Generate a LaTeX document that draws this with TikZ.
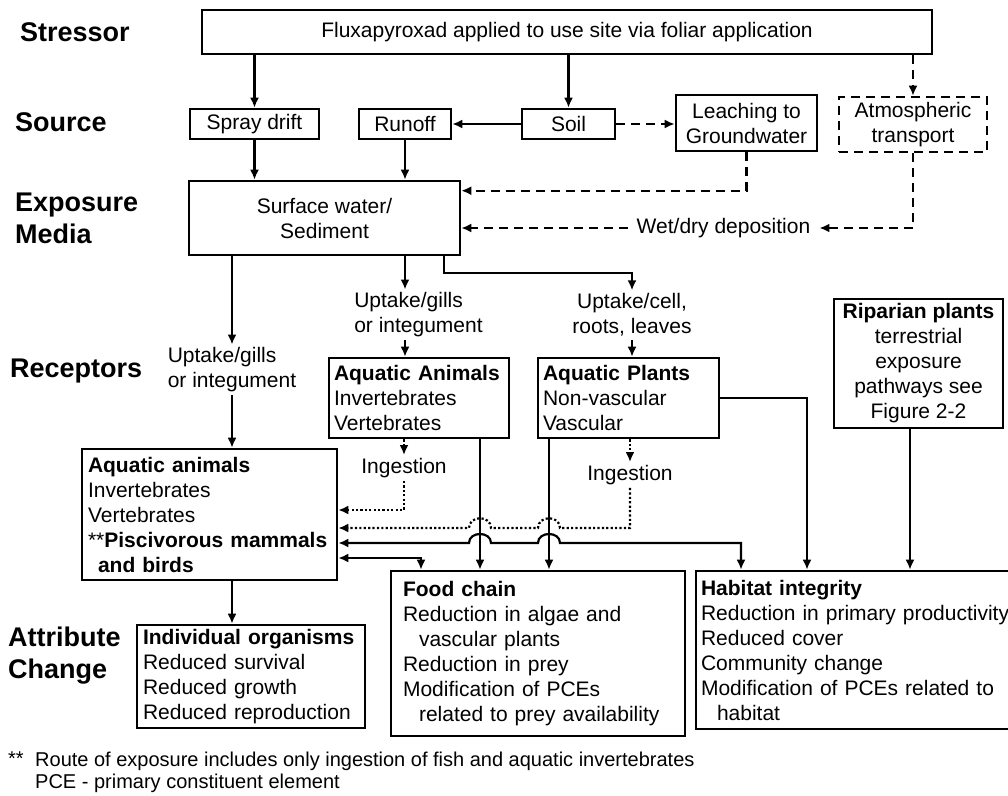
\documentclass[tikz,border=0pt]{standalone}
\usepackage{fontspec}
\setmainfont{Liberation Sans}
\usetikzlibrary{arrows.meta, positioning}

\begin{document}
\begin{tikzpicture}[x=1pt, y=-1pt,
  every node/.style={font=\fontsize{21}{25}\selectfont},
  stagelabel/.style={font=\fontsize{27}{32}\selectfont\bfseries, align=left,
    anchor=west, inner sep=0pt},
  plainbox/.style={draw, line width=2.6pt, rectangle, align=center, inner sep=4pt},
  listbox/.style={draw, line width=2.6pt, rectangle, align=left, inner ysep=4pt},
  routelabel/.style={align=left, inner sep=3pt},
  flow/.style={line width=2.2pt, -{Latex[length=10pt, width=9pt]}},
  twoway/.style={flow, {Latex[length=10pt, width=9pt]}-{Latex[length=10pt, width=9pt]}},
  dashflow/.style={flow, dash pattern=on 9pt off 6pt},
  dotflow/.style={flow, dash pattern=on 2.2pt off 2.2pt},
  footnote/.style={font=\fontsize{20}{22}\selectfont, anchor=west, inner sep=0pt, align=left}
]
\useasboundingbox (0,0) rectangle (1008,795);
\clip (0,0) rectangle (1008,795);

\node[stagelabel] (lstressor) at (20,32) {Stressor};
\node[stagelabel] (lsource) at (15,122) {Source};
\node[stagelabel] (lmedia) at (15,218) {Exposure\\Media};
\node[stagelabel] (lreceptor) at (10,371) {Receptors};
\node[stagelabel] (lattrib) at (8,656) {Attribute\\Change};

\node[plainbox, minimum width=730pt, minimum height=44pt] (stressor) at (567,32)
  {Fluxapyroxad applied to use site via foliar application};

\node[plainbox, minimum width=129pt, minimum height=30pt] (spray) at (254.5,124) {Spray drift};
\node[plainbox, minimum width=92pt, minimum height=30pt] (runoff) at (405,124) {Runoff};
\node[plainbox, minimum width=93pt, minimum height=30pt] (soil) at (568.5,124) {Soil};
\node[plainbox, minimum width=141pt, minimum height=56pt] (leach) at (746.5,123)
  {Leaching to\\Groundwater};
\node[plainbox, dash pattern=on 9pt off 6pt, minimum width=148pt, minimum height=55pt]
  (atmos) at (913,124.5) {Atmospheric\\transport};

\node[plainbox, minimum width=271pt, minimum height=74pt] (surface) at (324.5,218)
  {Surface water/\\Sediment};
\node[inner xsep=9pt] (depo) at (723.5,228) {Wet/dry deposition};

\node[routelabel] (up1) at (232,370) {Uptake/gills\\or integument};
\node[routelabel] (up2) at (418.5,315) {Uptake/gills\\or integument};
\node[routelabel, align=center] (up3) at (632,315) {Uptake/cell,\\roots, leaves};

\node[listbox, text width=170pt, inner xsep=5pt, minimum height=80pt] (aqanim) at (419,398)
  {\textbf{Aquatic Animals}\\Invertebrates\\Vertebrates};
\node[listbox, text width=171pt, inner xsep=5pt, minimum height=80pt] (aqplant) at (628.5,398)
  {\textbf{Aquatic Plants}\\Non-vascular\\Vascular};
\node[plainbox, minimum width=169pt, minimum height=129pt] (riparian) at (918.5,363.5)
  {\textbf{Riparian plants}\\terrestrial\\exposure\\pathways see\\Figure 2-2};

\node[listbox, text width=243pt, inner xsep=6pt, minimum height=131pt] (leftanim) at (209.5,514.5)
  {\textbf{Aquatic animals}\\Invertebrates\\Vertebrates\\{}**\textbf{Piscivorous mammals}\\
   \hspace*{10pt}\textbf{and birds}};
\node[inner sep=3pt] (ing1) at (404,468) {Ingestion};
\node[inner sep=3pt] (ing2) at (630,475) {Ingestion};

\node[listbox, text width=216pt, inner xsep=6pt, minimum height=103pt] (indiv) at (251,676.5)
  {\textbf{Individual organisms}\\Reduced survival\\Reduced growth\\Reduced reproduction};
\node[listbox, text width=270pt, inner xsep=12pt, minimum height=165pt] (food) at (538,653.5)
  {\textbf{Food chain}\\Reduction in algae and\\\hspace*{16pt}vascular plants\\Reduction in prey\\
   Modification of PCEs\\\hspace*{16pt}related to prey availability};
\node[listbox, text width=330pt, inner xsep=5pt, minimum height=158pt] (habitat) at (866,650)
  {\textbf{Habitat integrity}\\Reduction in primary productivity\\Reduced cover\\Community change\\
   Modification of PCEs related to\\\hspace*{16pt}habitat};

\node[footnote] (fnmark) at (8,759) {**};
\node[footnote] (fnote) at (35,772)
  {Route of exposure includes only ingestion of fish and aquatic invertebrates\\
   PCE - primary constituent element};

\draw[flow] (stressor.south -| spray.north) -- (spray.north);
\draw[flow] (stressor.south -| soil.north) -- (soil.north);
\draw[dashflow] (stressor.south -| atmos.north) -- (atmos.north);
\draw[flow] (soil.west) -- (runoff.east);
\draw[dashflow] (soil.east) -- (soil.east -| leach.west);

\draw[flow] (spray.south) -- (spray.south |- surface.north);
\draw[flow] (runoff.south) -- (runoff.south |- surface.north);
\draw[dashflow] (leach.south) |- ([yshift=-11pt]surface.north east);
\draw[dashflow] (atmos.south) |- (depo.east);
\draw[dashflow] (depo.west) -- (depo.west -| surface.east);

\draw[flow] (surface.south -| up1.north) -- (up1.north);
\draw[flow] (up1.south) -- (up1.south |- leftanim.north);
\draw[flow] (surface.south -| runoff.south) -- (runoff.south |- up2.north);
\draw[flow] (runoff.south |- up2.south) -- (runoff.south |- aqanim.north);
\draw[flow] ([xshift=-17pt]surface.south east) -- ++(0,17) -| (up3.north);
\draw[flow] (up3.south) -- (up3.south |- aqplant.north);

\draw[dotflow] (aqanim.south -| ing1.north) -- (ing1.north);
\draw[dotflow] (ing1.south) |- ([yshift=4.5pt]leftanim.east);
\draw[dotflow] (aqplant.south -| ing2.north) -- (ing2.north);
\draw[dotflow] (ing2.south) |- (560,528) .. controls (560,515) and (538,515) .. (538,528)
  -- (491,528) .. controls (491,515) and (469,515) .. (469,528)
  -- ([yshift=-13.5pt]leftanim.east);

\coordinate (animdrop) at ([xshift=61pt]aqanim.south);
\coordinate (plantdrop) at ([xshift=-79.5pt]aqplant.south);
\coordinate (ripdrop) at ([xshift=-8.5pt]riparian.south);
\draw[flow] (animdrop) -- (animdrop |- food.north);
\draw[flow] (plantdrop) -- (plantdrop |- food.north);
\draw[flow] (aqplant.east) -| ([xshift=-59pt]habitat.north);
\draw[flow] (ripdrop) -- (ripdrop |- habitat.north);

\draw[twoway] ([yshift=-28.5pt]leftanim.east) -- (469,543)
  .. controls (469,531) and (491,531) .. (491,543) -- (538,543)
  .. controls (538,531) and (560,531) .. (560,543) -| ([xshift=-125pt]habitat.north);
\draw[twoway] ([yshift=-43.5pt]leftanim.east) -| ([xshift=-117pt]food.north);
\draw[flow] (up1.south |- leftanim.south) -- (up1.south |- indiv.north);
\end{tikzpicture}
\end{document}
